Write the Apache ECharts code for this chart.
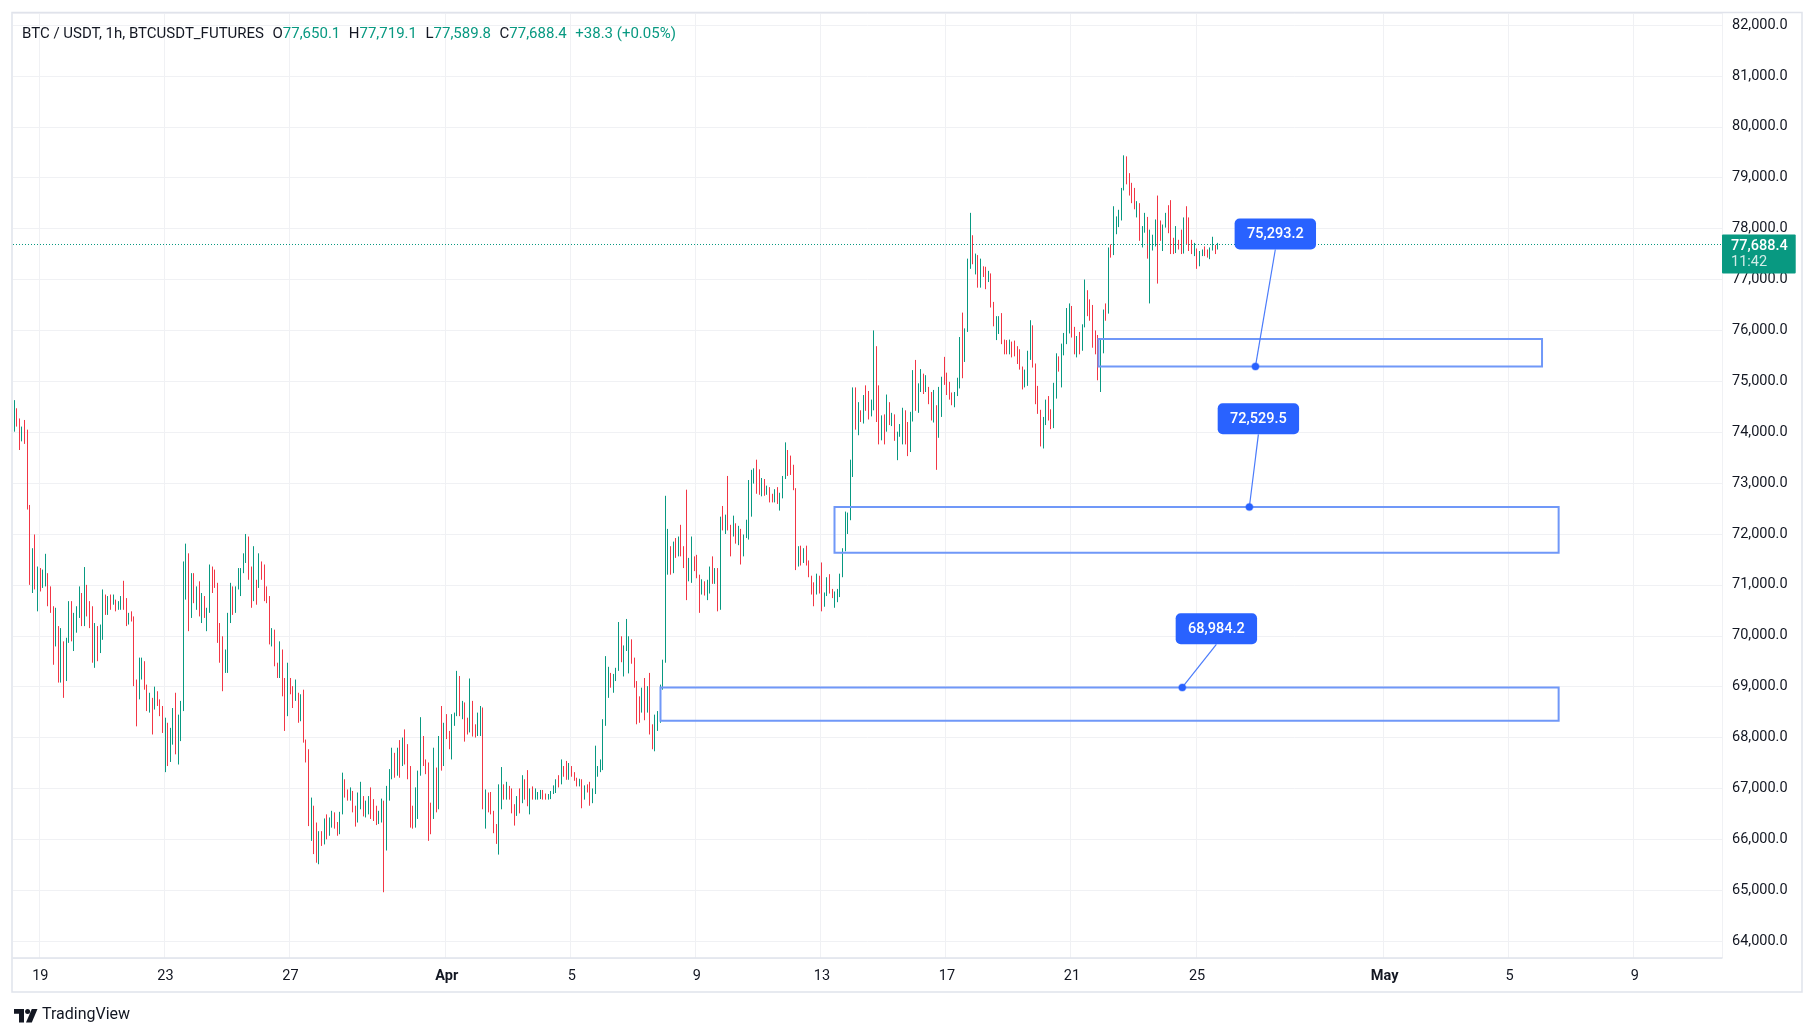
<!DOCTYPE html>
<html><head><meta charset="utf-8">
<script src="https://cdn.jsdelivr.net/npm/echarts@6/dist/echarts.min.js"></script>
<style>html,body{margin:0;padding:0;background:#fff;}#c{width:1815px;height:1036px;}</style>
</head><body><div id="c"></div>
<script>
// ---------- data (2-hour candles) ----------
const seriesStart = '03-18 04:00';
const firstOpen = 74010;
const closes = [
74440,74180,73880,74050,73820,72540,71360,71490,71100,71270,
71100,71170,71230,70680,70510,69790,70190,69140,69860,69140,
69860,70510,69990,70320,70510,70710,70320,70840,70510,70250,
69790,69790,69660,70150,70680,70450,70710,70640,70710,70550,
70610,70710,70580,70250,70410,70350,69140,68750,69340,69470,
69040,68580,68650,68550,68910,68720,68520,68160,68160,67900,
68130,68490,68160,68390,68650,70840,71100,70450,71100,70710,
70710,70450,70710,70410,70480,71330,71230,71000,69990,69790,
69530,69660,70380,70810,70510,70910,71200,71270,71560,71820,
71170,70710,71040,71000,71400,71170,70710,70680,69920,70060,
69470,69400,69730,68880,68550,69140,68940,68880,68880,68360,
68810,67960,67570,66390,66660,65870,65740,66070,65940,66330,
66100,66300,66490,66270,66100,66490,67050,66920,66890,66920,
66590,66360,66790,66790,66530,66590,66760,66590,66430,66330,
66490,66720,65870,66790,67250,67670,67280,67640,67440,67930,
67840,67250,66530,66270,66950,67250,68030,67510,67350,66720,
66660,67050,66590,67970,67440,68230,68030,67840,68330,68420,
69140,68490,68650,68160,68130,68720,68230,68060,68420,68550,
66790,66890,66850,66560,66230,65970,66790,66920,66820,66850,
66820,66590,66490,66790,66720,67180,66890,66720,66920,66820,
66850,66890,66920,66850,66840,66840,66920,67020,67120,67080,
67440,67280,67210,67410,67260,67180,67060,67150,66820,67020,
66970,66720,66920,67350,67390,67470,68290,69140,69270,69020,
69140,69330,69960,69530,69760,69800,69930,69500,69040,68810,
68750,68910,68490,68910,68220,67860,68190,68450,68940,69470,
71360,71490,71270,71760,71590,71890,71760,71400,71100,71460,
71560,71310,71200,70910,71070,70840,71040,71300,71070,71270,
70550,72280,72150,72310,72080,71950,72210,71850,72080,71760,
71940,72230,73000,73060,73230,72930,72900,72930,72800,72900,
72670,72660,72700,72640,72700,73100,73650,73260,73230,72900,
71360,71660,71430,71680,71430,71180,70840,70810,71070,70870,
70580,70830,71100,70870,70790,70830,70840,71170,71660,72050,
72280,73330,74690,74140,74370,74270,74680,74500,74430,74610,
75020,74630,73840,74270,74010,74590,74200,74330,73860,73940,
74100,74430,73810,73610,74210,74760,74500,74890,75150,74830,
74860,74790,74270,74530,73980,74400,75020,74960,74760,74700,
74570,74730,74880,75810,75420,75970,77250,77770,77380,77410,
76990,77180,77100,76990,77120,76500,76120,76200,76230,75810,
75780,75580,75780,75680,75550,75380,75290,74890,74930,75550,
76070,75350,74760,74440,74010,74170,74600,74270,74110,74890,
75420,75230,75550,75910,75940,76140,75910,75710,75840,75610,
76070,76790,76530,76230,75740,75680,75550,75740,76360,76330,
77570,77480,77970,78060,78350,78750,79080,78920,78850,78560,
78440,78500,77800,78020,78230,77510,77570,77670,78130,78030,
77840,78030,78260,78000,77640,77520,77770,77630,77540,78000,
77770,77640,77520,77590,77350,77520,77560,77540,77460,77590,
77670,77650,77688.4];
const highs = [
74630,74470,74270,74110,74240,74050,72570,71720,71990,71360,
71330,71300,71610,71200,70970,70580,70550,70190,70150,69890,
69960,70680,70680,70450,70580,70970,70840,71350,71000,70680,
70580,70250,70190,70220,70910,70810,70780,70810,70810,70710,
70680,70780,71080,70740,70450,70480,70380,69140,69570,69570,
69500,69040,68880,68780,69000,68910,68750,68620,68390,68290,
68190,68580,68880,68450,68720,71460,71810,71620,71230,71230,
70970,71070,70840,70780,70550,71400,71360,71300,71040,70250,
69990,69730,70450,71040,70970,70970,71330,71330,71620,72000,
71950,71360,71760,71100,71620,71460,71400,70970,70780,70150,
70120,69470,69890,69500,69170,69470,69170,69010,69140,68880,
68850,68940,67960,67770,66820,66620,66330,66160,66160,66410,
66490,66430,66560,66530,66340,66540,67310,67180,66980,67020,
66950,66660,66920,67130,66850,66760,66850,67020,66790,66660,
66560,66800,66760,67050,67380,67800,67700,67800,67950,68000,
68160,67870,67440,66660,67020,67350,68400,68030,67570,67510,
66720,67800,67410,68030,68620,68290,68460,68130,68460,68490,
69310,69210,68720,68690,68390,69160,68720,68260,68490,68620,
68590,66980,66920,66930,66540,66300,67080,67420,67080,67130,
67050,67000,66690,66850,67000,67260,67180,67360,67000,67040,
67000,66930,66970,66970,66900,66890,66950,67060,67180,67260,
67570,67440,67540,67500,67440,67320,67210,67190,67180,67060,
67080,67130,67000,67840,67440,67570,68360,69600,69390,69270,
69250,69370,70270,69990,69810,70330,69990,69890,69570,69110,
68810,68980,69170,69010,69270,68260,68450,68520,69040,69530,
72750,72100,71760,71850,71920,71950,72180,71760,72870,71530,
71950,71560,71590,71200,71110,71070,71100,71360,71560,71330,
71330,72340,72550,72380,73140,72180,72360,72210,72160,72100,
71990,72280,73060,73260,73290,73460,73270,73100,73080,72950,
72920,72790,72880,72920,72810,73140,73800,73650,73540,73360,
72900,71760,71770,71720,71770,71480,71170,71050,71220,71180,
71440,70850,71150,71210,70920,70870,70920,71220,71720,72440,
72420,73460,74880,74880,74590,74430,74730,74920,74810,74640,
76000,75690,74920,74330,74350,74740,74590,74380,74350,74010,
74160,74480,74430,74200,74400,75220,75420,74960,75240,75150,
75120,74890,74660,74830,74170,74890,75090,75480,75170,74990,
74780,74790,75070,75870,76350,76040,77410,78310,77870,77510,
77480,77410,77260,77250,77170,77100,76560,76280,76280,76340,
75820,75810,75820,75780,75800,75690,75630,75290,75230,75600,
76200,76100,75340,74910,74400,74300,74640,74710,74450,74970,
75550,75490,75740,75950,76440,76530,76480,76070,75890,75970,
76120,77000,76740,76610,76500,76000,75910,75820,76410,76530,
77630,77690,78440,78240,78370,78800,79440,79420,79090,78900,
78800,78540,78440,78050,78310,78210,77980,77880,78180,78650,
78160,78080,78310,78460,78560,77820,78050,77780,77980,78220,
78440,78220,77780,77720,77610,77560,77590,77650,77590,77630,
77840,77680,77719.1];
const lows = [
74010,74110,73650,73820,73770,72480,71000,70840,70910,70480,
70870,70940,70970,70580,70450,69430,69860,69080,69080,68780,
69110,69860,69890,69700,70060,70350,70190,70190,70380,70150,
69470,69370,69500,69660,69920,70410,70410,70510,70610,70480,
70510,70510,70510,70190,70220,70280,69010,68220,68750,69140,
68940,68520,68490,68060,68550,68620,68420,68090,67320,67440,
67520,67860,67670,67470,67930,68520,70710,70090,70350,70640,
70510,70380,70250,70350,70090,70450,70840,70940,69860,69470,
68910,69270,69270,70250,70410,70450,70910,70780,71230,71430,
71100,70550,70680,70610,70940,71100,70680,70640,69830,69790,
69400,69170,69170,68810,68130,68420,68850,68580,68720,68290,
68320,67900,67510,66260,65970,65710,65540,65510,65870,65900,
66000,66070,66230,66210,66070,66100,66490,66820,66760,66760,
66530,66250,66330,66590,66450,66430,66490,66400,66360,66280,
66300,66330,64960,65780,66760,67180,67210,67250,67210,67440,
67470,67180,66230,66210,66230,66400,67250,67440,67280,65970,
66100,66400,66530,66590,67350,67440,67970,67770,67570,68230,
68420,68420,68360,67920,68060,68100,68020,68000,68030,68030,
66590,66210,66530,66490,66120,65910,65700,66590,66780,66780,
66780,66510,66270,66460,66510,66710,66780,66650,66490,66780,
66780,66780,66790,66780,66780,66780,66790,66890,66910,67020,
67080,67230,67170,67170,67230,67150,67040,67040,66610,66780,
66920,66660,66710,66890,67230,67320,67360,68230,68780,68980,
68880,69110,69310,69480,69200,69700,69260,69450,68980,68260,
68290,68490,68340,68550,68060,67770,67730,68130,68290,68940,
69470,71200,71200,71230,71530,71560,71560,71330,70700,71070,
71040,71270,71130,70450,70810,70790,70700,70830,71020,71020,
70480,70510,72070,72000,72070,71560,71990,71810,71780,71400,
71560,71920,71890,72340,72990,72790,72770,72740,72750,72770,
72620,72620,72620,72590,72460,72700,73080,73140,73160,72860,
71290,71360,71380,71430,71380,71150,70810,70580,70810,70830,
70480,70570,70780,70830,70740,70550,70660,70760,71150,71660,
72000,72270,73120,74050,73940,74200,74170,74420,74250,74310,
74430,74200,73760,73840,73760,74040,74140,74120,73830,73450,
73910,73760,73760,73530,74040,74340,74420,74380,74790,74750,
74790,74550,74230,74190,73260,73890,74300,74930,74730,74640,
74530,74490,74710,74860,75060,75380,75970,77210,77300,77100,
76840,76840,77050,76810,76950,76450,76080,75810,75930,75730,
75530,75530,75530,75470,75490,75340,75230,74840,74880,74910,
75420,75270,74550,74360,73720,73680,74140,74230,74060,74080,
74660,75190,74880,75510,75730,76070,75860,75530,75470,75530,
75600,76060,76280,76190,75660,75530,75020,74790,75550,76190,
76330,77430,77480,77890,78030,78160,78750,78870,78650,78500,
78380,78220,77760,77630,77920,77410,76530,77590,77650,76920,
77760,77560,78020,77910,77500,77500,77630,77590,77500,77510,
77690,77560,77500,77460,77210,77260,77460,77460,77430,77400,
77570,77500,77589.8];

// x axis
const slotHours = 2;
const slotCount = 656;
const tickDates  = ['03-19','03-23','03-27','04-01','04-05','04-09','04-13','04-17','04-21','04-25','05-01','05-05','05-09'];
const tickLabels = ['19','23','27','Apr','5','9','13','17','21','25','May','5','9'];
const yMin = 63668, yMax = 82237;

// drawn rectangles
const boxStart  = ['04-21 21:20','04-13 10:40','04-07 21:05'];
const boxEnd    = ['05-06 01:50','05-06 14:35','05-06 14:35'];
const boxTop    = [75830, 72529.5, 68984.2];
const boxBottom = [75293.2, 71630, 68330];

// price notes
const noteText   = ['75,293.2','72,529.5','68,984.2'];
const notePrice  = [75293.2, 72529.5, 68984.2];
const noteTime   = ['04-26 21:50','04-26 17:10','04-24 13:40'];
const labelTime  = ['04-27 13:05','04-27 00:05','04-25 15:50'];
const labelPrice = [77894, 74263, 70137];

// legend
const symbolText = 'BTC / USDT, 1h, BTCUSDT_FUTURES';
const legendKeys = ['O','H','L','C'];
const legendVals = [77650.1, 77719.1, 77589.8, 77688.4];
const change = 38.3, changePct = 0.05;
const lastPrice = 77688.4, countdown = '11:42';

// ---------- build ----------
const UP = '#089981', DOWN = '#F23645', TXT = '#131722', GRID = '#f0f1f4', FRAME = '#e0e3eb';
const BLUE = '#2962ff', BOX = '#7098f8';
const FONT = 'Roboto';
const FS = 14.5, LFS = 15;
const YEAR = 2026, HOUR = 3600e3;
const pad = n => String(n).padStart(2, '0');
const toMs = s => { const [md, hm] = s.split(' '); const [M, D] = md.split('-').map(Number); const [H, Mi] = hm.split(':').map(Number); return Date.UTC(YEAR, M - 1, D, H, Mi); };
const startMs = toMs(seriesStart);
const slotPos = s => (toMs(s) - startMs) / (slotHours * HOUR) - 0.5;
const fmtPrice = v => Number(v).toLocaleString('en-US', {minimumFractionDigits: 1, maximumFractionDigits: 1});

const cats = [];
for (let i = 0; i < slotCount; i++) {
  const d = new Date(startMs + i * slotHours * HOUR);
  cats.push(`${pad(d.getUTCMonth() + 1)}-${pad(d.getUTCDate())} ${pad(d.getUTCHours())}:00`);
}
const candles = closes.map((c, i) => {
  const o = i ? closes[i - 1] : firstOpen;
  return [o, c, Math.min(lows[i], o, c), Math.max(highs[i], o, c)];
});
const isTick = (idx, v) => v.endsWith(' 00:00') && tickDates.includes(v.slice(0, 5));
const tickFmt = v => { const lab = tickLabels[tickDates.indexOf(v.slice(0, 5))]; return /[A-Za-z]/.test(lab) ? `{b|${lab}}` : lab; };

const px = (api, v, price) => {
  const i = Math.floor(v);
  const c = api.coord([i, price]);
  const bw = api.size([1, 0])[0];
  return [c[0] + (v - i) * bw, c[1]];
};

const legendParts = [`{d|${symbolText}}`, '{s| }'];
legendKeys.forEach((k, i) => legendParts.push(`{d|${k}}{g|${fmtPrice(legendVals[i])}}`, '{s| }'));
legendParts.push(`{g|${change > 0 ? '+' : ''}${change.toFixed(1)} (${changePct > 0 ? '+' : ''}${changePct.toFixed(2)}%)}`);

const chart = echarts.init(document.getElementById('c'), null, {renderer: 'canvas'});
chart.setOption({
  backgroundColor: '#ffffff',
  animation: false,
  textStyle: {fontFamily: FONT},
  title: {
    left: 22, top: 27, padding: 0,
    text: legendParts.join(''),
    textStyle: {fontWeight: 'normal', fontSize: LFS, rich: {
      d: {color: TXT, fontSize: LFS, fontFamily: FONT, fontWeight: 'normal'},
      g: {color: UP, fontSize: LFS, fontFamily: FONT, fontWeight: 'normal'},
      s: {width: 8.5, fontSize: LFS, fontWeight: 'normal'}
    }}
  },
  grid: {left: 13, right: 93, top: 13, bottom: 78, show: false, outerBoundsMode: 'none'},
  xAxis: {
    type: 'category', data: cats, boundaryGap: true,
    axisLine: {show: true, lineStyle: {color: FRAME, width: 1.5}},
    axisTick: {show: false},
    axisLabel: {interval: isTick, formatter: tickFmt, color: TXT, fontFamily: FONT, fontSize: FS, margin: 11,
      rich: {b: {fontWeight: 'bold', color: TXT, fontFamily: FONT, fontSize: FS}}},
    splitLine: {show: true, interval: isTick, lineStyle: {color: GRID, width: 1}}
  },
  yAxis: {
    type: 'value', position: 'right', min: yMin, max: yMax, scale: true,
    splitNumber: 18, minInterval: 1000, maxInterval: 1000,
    axisLine: {show: false}, axisTick: {show: false},
    axisLabel: {showMinLabel: false, showMaxLabel: false, formatter: v => fmtPrice(v), color: TXT,
      fontFamily: FONT, fontSize: FS, margin: 10, align: 'left'},
    splitLine: {show: true, lineStyle: {color: GRID, width: 1}}
  },
  series: [
    {
      type: 'candlestick', data: candles, barWidth: 1, z: 2,
      itemStyle: {color: UP, color0: DOWN, borderColor: UP, borderColor0: DOWN, borderWidth: 1},
      markLine: {
        symbol: 'none', silent: true, animation: false,
        data: [{yAxis: lastPrice}],
        lineStyle: {color: UP, type: [1, 2], width: 1},
        label: {
          show: true, position: 'end', distance: 0, offset: [0, 9.5],
          formatter: `{p|${fmtPrice(lastPrice)}}\n{t|${countdown}}`,
          backgroundColor: UP, padding: [4, 8, 3, 9], borderRadius: 1,
          rich: {
            p: {color: '#ffffff', fontSize: FS, fontFamily: FONT, lineHeight: 16, fontWeight: 500},
            t: {color: 'rgba(255,255,255,0.82)', fontSize: FS, fontFamily: FONT, lineHeight: 16}
          }
        }
      }
    },
    {
      type: 'custom', z: 5, silent: true,
      data: boxStart.map((s, i) => [slotPos(s), boxTop[i]]),
      renderItem: (params, api) => {
        const i = params.dataIndex;
        const a = px(api, slotPos(boxStart[i]), boxTop[i]);
        const b = px(api, slotPos(boxEnd[i]), boxBottom[i]);
        return {type: 'rect', shape: {x: a[0], y: a[1], width: b[0] - a[0], height: b[1] - a[1]},
          style: {fill: 'rgba(0,0,0,0)', stroke: BOX, lineWidth: 2}};
      }
    },
    {
      type: 'custom', z: 6, silent: true,
      data: noteTime.map((s, i) => [slotPos(s), notePrice[i]]),
      renderItem: (params, api) => {
        const i = params.dataIndex;
        const d = px(api, slotPos(noteTime[i]), notePrice[i]);
        const l = px(api, slotPos(labelTime[i]), labelPrice[i]);
        const w = 81.4, h = 31;
        return {type: 'group', children: [
          {type: 'line', shape: {x1: l[0], y1: l[1] + h / 2, x2: d[0], y2: d[1]}, style: {stroke: '#4a7bfb', lineWidth: 1.2}},
          {type: 'circle', shape: {cx: d[0], cy: d[1], r: 3.5}, style: {fill: BLUE, stroke: 'rgba(41,98,255,0.35)', lineWidth: 1.5}},
          {type: 'rect', shape: {x: l[0] - w / 2, y: l[1] - h / 2, width: w, height: h, r: 5}, style: {fill: BLUE}},
          {type: 'text', style: {text: noteText[i], x: l[0], y: l[1] + 0.5, align: 'center', verticalAlign: 'middle',
            fill: '#ffffff', fontSize: FS, fontFamily: FONT, fontWeight: 500}}
        ]};
      }
    }
  ],
  graphic: [
    {type: 'rect', silent: true, z: 100, shape: {x: 12, y: 12.5, width: 1790, height: 979.5},
      style: {fill: 'rgba(0,0,0,0)', stroke: FRAME, lineWidth: 1.5}},
    {type: 'group', left: 14, top: 1009, silent: true, children: [
      {type: 'polygon', shape: {points: [[0,0],[10,0],[10,13.5],[5,13.5],[5,4.8],[0,4.8]]}, style: {fill: TXT}},
      {type: 'circle', shape: {cx: 13.6, cy: 2.5, r: 2.5}, style: {fill: TXT}},
      {type: 'polygon', shape: {points: [[17.8,0],[23.5,0],[17.8,13.5],[12,13.5]]}, style: {fill: TXT}}
    ]},
    {type: 'text', left: 42, top: 1007, silent: true, style: {text: 'TradingView', fontSize: 16, fontFamily: FONT, fill: TXT}}
  ]
});
</script>
</body></html>
